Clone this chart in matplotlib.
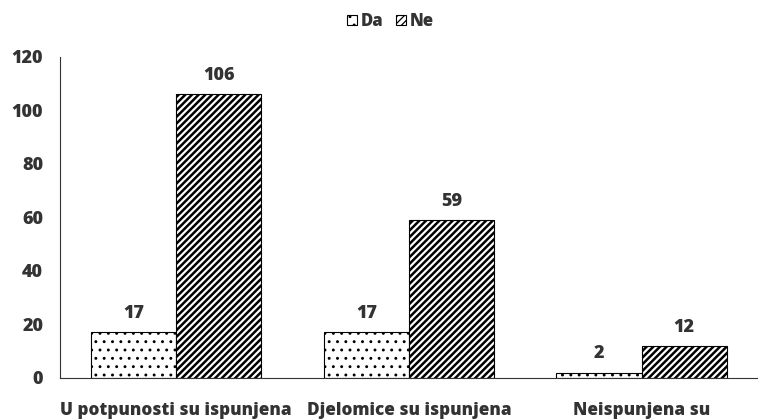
import matplotlib.pyplot as plt
import numpy as np

plt.rcParams['font.family'] = ['Open Sans', 'DejaVu Sans']
plt.rcParams['hatch.linewidth'] = 1.8

categories = ['U potpunosti su ispunjena', 'Djelomice su ispunjena', 'Neispunjena su']
da_values = [17, 17, 2]
ne_values = [106, 59, 12]
y_ticks = [0, 20, 40, 60, 80, 100, 120]

text_color = '#333333'

fig = plt.figure(figsize=(7.58, 4.19), dpi=100)
ax = fig.add_axes([0.079, 0.098, 0.921, 0.766])

x = np.arange(len(categories))
w = 0.366
bars_da = ax.bar(x - w / 2, da_values, w, color='white', edgecolor='black',
                 hatch='..', linewidth=0.8, label='Da')
bars_ne = ax.bar(x + w / 2, ne_values, w, color='white', edgecolor='black',
                 hatch='/////', linewidth=0.8, label='Ne')
for b in bars_da:
    if hasattr(b, 'set_hatch_linewidth'):
        b.set_hatch_linewidth(0.9)

for bars in (bars_da, bars_ne):
    for b in bars:
        ax.text(b.get_x() + b.get_width() / 2, b.get_height() + 3.8, str(int(b.get_height())),
                ha='center', va='bottom', fontsize=13, fontweight='heavy', color=text_color)

ax.set_xlim(-0.5, 2.5)
ax.set_ylim(0, 120)
ax.set_yticks(y_ticks)
ax.set_xticks(x)
ax.set_xticklabels(categories)
ax.tick_params(axis='y', length=0, labelsize=13, labelcolor=text_color, pad=12)
ax.tick_params(axis='x', length=0, labelsize=12.3, labelcolor=text_color, pad=17)
for lbl in ax.get_xticklabels() + ax.get_yticklabels():
    lbl.set_fontweight('heavy')

ax.spines['top'].set_visible(False)
ax.spines['right'].set_visible(False)
ax.spines['left'].set_color('#333333')
ax.spines['bottom'].set_color('#333333')

leg = fig.legend(loc='upper center', bbox_to_anchor=(0.515, 1.005), ncol=2, frameon=False,
                 handlelength=0.6, handleheight=0.6, handletextpad=0.2, columnspacing=0.8,
                 prop={'weight': 'heavy', 'size': 12})
for t in leg.get_texts():
    t.set_color(text_color)
for h in leg.legend_handles:
    if hasattr(h, 'set_hatch_linewidth'):
        h.set_hatch_linewidth(0.9)

fig.savefig('out.png', dpi=100)
